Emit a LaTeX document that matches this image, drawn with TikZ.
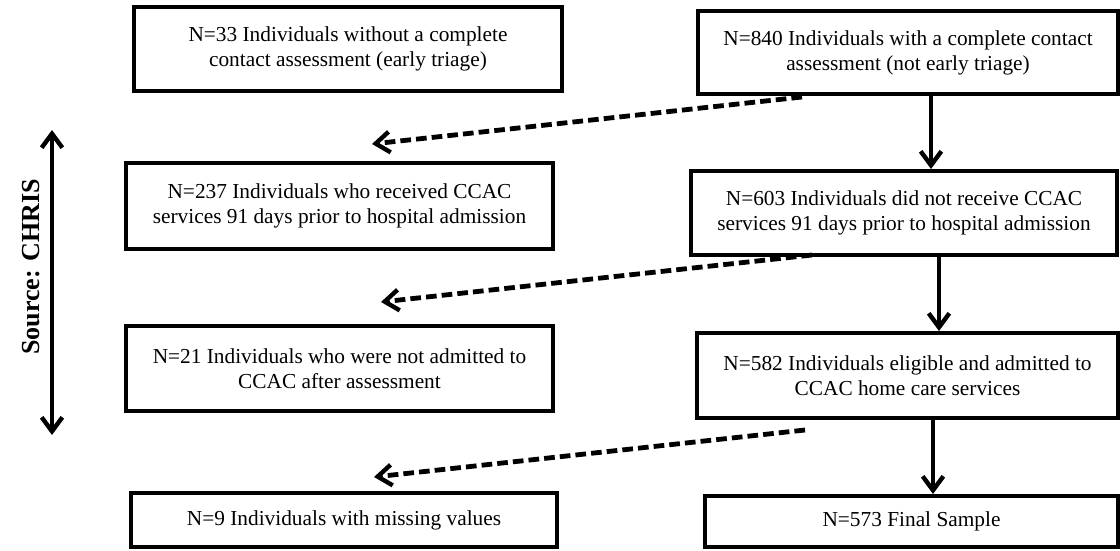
\documentclass[tikz,border=0pt]{standalone}
\usepackage{fontspec}
\setmainfont{Liberation Serif}
\usetikzlibrary{arrows.meta}
\begin{document}
\begin{tikzpicture}[x=0.75pt,y=-0.75pt,
  box/.style={draw,line width=3pt,align=center,font=\fontsize{16}{18.6}\selectfont,inner sep=0pt},
  tip/.tip={Straight Barb[length=10.5pt,width=15.5pt,line width=3.3pt]},
  solidarrow/.style={line width=3.2pt,-tip},
  dasharrow/.style={line width=3.6pt,dash pattern=on 8pt off 3.8pt,-tip}]
\useasboundingbox (0,0) rectangle (1120,550);
\node[box,minimum width=428*0.75pt,minimum height=84*0.75pt] (a) at (348,49) {N=33 Individuals without a complete\\contact assessment (early triage)};
\node[box,minimum width=420*0.75pt,minimum height=83*0.75pt] (b) at (908,52.5) {N=840 Individuals with a complete contact\\assessment (not early triage)};
\node[box,minimum width=427*0.75pt,minimum height=86*0.75pt] (c) at (339.5,206) {N=237 Individuals who received CCAC\\services 91 days prior to hospital admission};
\node[box,minimum width=426*0.75pt,minimum height=84*0.75pt] (d) at (904,213) {N=603 Individuals did not receive CCAC\\services 91 days prior to hospital admission};
\node[box,minimum width=427*0.75pt,minimum height=85*0.75pt] (e) at (339.5,368.5) {N=21 Individuals who were not admitted to\\CCAC after assessment};
\node[box,minimum width=421*0.75pt,minimum height=85*0.75pt] (f) at (907.5,375.5) {N=582 Individuals eligible and admitted to\\CCAC home care services};
\node[box,minimum width=426*0.75pt,minimum height=54*0.75pt] (g) at (344,520) {N=9 Individuals with missing values};
\node[box,minimum width=413*0.75pt,minimum height=51*0.75pt] (h) at (911.5,521.5) {N=573 Final Sample};
\coordinate (s1) at (802,97);
\coordinate (t1) at (372,144);
\coordinate (s2) at (812,255);
\coordinate (t2) at (381,302);
\coordinate (s3) at (805,430);
\coordinate (t3) at (374,477);
\coordinate (u) at (52,130);
\coordinate (l) at (52,435);
\draw[solidarrow] (b.south -| 931,0) -- (d.north -| 931,0);
\draw[solidarrow] (d.south -| 939,0) -- (f.north -| 939,0);
\draw[solidarrow] (f.south -| 933,0) -- (h.north -| 933,0);
\draw[dasharrow] (s1) -- (t1);
\draw[dasharrow] (s2) -- (t2);
\draw[dasharrow] (s3) -- (t3);
\draw[line width=3pt,tip-tip] (u) -- (l);
\node[rotate=90,font=\fontsize{19.5}{22}\selectfont\bfseries] (src) at (31,267) {Source: CHRIS};
\end{tikzpicture}
\end{document}
